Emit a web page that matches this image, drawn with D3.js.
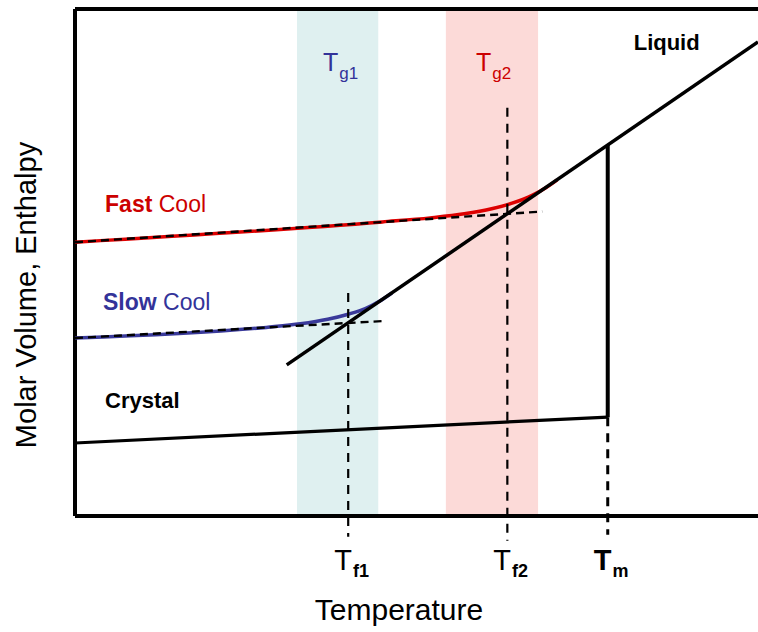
<!DOCTYPE html>
<html>
<head>
<meta charset="utf-8">
<script src="https://cdn.jsdelivr.net/npm/d3@7"></script>
<style>
  body { margin: 0; background: #fff; }
  svg { display: block; font-family: "Liberation Sans", Arial, sans-serif; }
</style>
</head>
<body>
<svg id="chart" width="758" height="632"></svg>
<script>
// Schematic volume/enthalpy vs temperature for glass formation
const tempDomain = [0, 100];
const volDomain = [0, 100];

// Glass-transition ranges (temperature bands)
const bandNames = ["Tg1", "Tg2"];
const bandStart = [32.5, 54.3];
const bandEnd = [44.4, 67.8];
const bandFill = ["#dff0f0", "#fcdad8"];

// Characteristic temperatures
const tickNames = ["f1", "f2", "m"];
const tickTemps = [40, 63.3, 78];
const tickTop = [44.0, 80.5, 19.5];
const tickBottom = [-4.1, -4.9, -3.7];

// Equilibrium liquid and crystal lines
const liquidT = [31, 100];
const liquidV = [29.8, 93.5];
const crystalT = [0, 78];
const crystalV = [14.4, 19.5];
const meltT = [78, 78];
const meltV = [19.5, 73.2];

// Fast cooling: glass line and measured curve
const fastGlassT = [0, 68.4];
const fastGlassV = [54.0, 60.05];
const fastCurveT = [0, 45, 52, 57, 61, 64, 67, 69, 70.6];
const fastCurveV = [54.0, 58.0, 58.8, 59.6, 60.6, 61.7, 63.3, 64.8, 66.3];

// Slow cooling: glass line and measured curve
const slowGlassT = [0, 45.4];
const slowGlassV = [35.1, 38.47];
const slowCurveT = [0, 28, 33, 37, 40, 42.5, 44.5, 46.4];
const slowCurveV = [35.1, 37.2, 37.9, 38.8, 39.8, 40.9, 42.3, 44.0];

const svg = d3.select("#chart");
const x = d3.scaleLinear().domain(tempDomain).range([75, 758]);
const y = d3.scaleLinear().domain(volDomain).range([516, 9]);

const pts = (ts, vs) => ts.map((t, i) => [t, vs[i]]);
const line = d3.line().x(d => x(d[0])).y(d => y(d[1]));
const smooth = d3.line().x(d => x(d[0])).y(d => y(d[1])).curve(d3.curveMonotoneX);

// Bands
svg.selectAll("rect.band").data(bandNames).join("rect")
  .attr("class", "band")
  .attr("x", (d, i) => x(bandStart[i]))
  .attr("width", (d, i) => x(bandEnd[i]) - x(bandStart[i]))
  .attr("y", y(volDomain[1]))
  .attr("height", y(volDomain[0]) - y(volDomain[1]))
  .attr("fill", (d, i) => bandFill[i]);

// Frame: left, top and bottom edges
const frame = svg.append("g").attr("stroke", "#000").attr("stroke-width", 4).attr("fill", "none");
frame.append("path").attr("d", line([[0, 0], [0, 100]]));
frame.append("path").attr("d", line([[0, 100], [100, 100]]));
frame.append("path").attr("d", line([[0, 0], [100, 0]]));

// Crystal line and melting step
svg.append("path").attr("d", line(pts(crystalT, crystalV)))
  .attr("stroke", "#000").attr("stroke-width", 3.2).attr("fill", "none");
svg.append("path").attr("d", line(pts(meltT, meltV)))
  .attr("stroke", "#000").attr("stroke-width", 4).attr("fill", "none");

// Cooling curves
svg.append("path").attr("d", smooth(pts(fastCurveT, fastCurveV)))
  .attr("stroke", "#dd0000").attr("stroke-width", 3.5).attr("fill", "none");
svg.append("path").attr("d", smooth(pts(slowCurveT, slowCurveV)))
  .attr("stroke", "#3a3a9a").attr("stroke-width", 3.5).attr("fill", "none");

// Liquid line
svg.append("path").attr("d", line(pts(liquidT, liquidV)))
  .attr("stroke", "#000").attr("stroke-width", 3.5).attr("fill", "none");

// Extrapolated glass lines (dashed)
[pts(fastGlassT, fastGlassV), pts(slowGlassT, slowGlassV)].forEach(p => {
  svg.append("path").attr("d", line(p))
    .attr("stroke", "#000").attr("stroke-width", 2.4).attr("stroke-dasharray", "8,5")
    .attr("fill", "none");
});

// Fictive / melting temperature markers
tickTemps.forEach((t, i) => {
  svg.append("path").attr("d", line([[t, tickTop[i]], [t, tickBottom[i]]]))
    .attr("stroke", "#000").attr("stroke-width", i === 2 ? 3 : 2.2)
    .attr("stroke-dasharray", "9,7").attr("fill", "none");
  const lab = svg.append("text")
    .attr("x", x(t) - 14).attr("y", 570)
    .attr("font-size", 29).attr("font-weight", i === 2 ? "bold" : "normal").attr("fill", "#000");
  lab.append("tspan").text("T");
  lab.append("tspan").attr("dy", 7).attr("dx", 1).attr("font-size", 18).attr("font-weight", "bold").text(tickNames[i]);
});

// Band labels
const bandColor = ["#333399", "#cc0000"];
const bandLabelT = [36.3, 58.7];
bandNames.forEach((n, i) => {
  const lab = svg.append("text").attr("x", x(bandLabelT[i])).attr("y", y(87.8))
    .attr("font-size", 25).attr("fill", bandColor[i]);
  lab.append("tspan").text("T");
  lab.append("tspan").attr("dy", 8).attr("dx", 1).attr("font-size", 17).text(n.slice(1));
});

// Curve labels
const fast = svg.append("text").attr("x", x(4.4)).attr("y", y(60.0))
  .attr("font-size", 23).attr("fill", "#cc0000");
fast.append("tspan").attr("font-weight", "bold").text("Fast");
fast.append("tspan").text(" Cool");

const slow = svg.append("text").attr("x", x(4.1)).attr("y", y(40.6))
  .attr("font-size", 23).attr("fill", "#333399");
slow.append("tspan").attr("font-weight", "bold").text("Slow");
slow.append("tspan").text(" Cool");

svg.append("text").attr("x", x(4.4)).attr("y", y(21.3))
  .attr("font-size", 22).attr("font-weight", "bold").attr("fill", "#000").text("Crystal");

svg.append("text").attr("x", x(81.8)).attr("y", y(91.9))
  .attr("font-size", 22).attr("font-weight", "bold").attr("fill", "#000").text("Liquid");

// Axis titles
svg.append("text").attr("x", 399).attr("y", 620).attr("text-anchor", "middle")
  .attr("font-size", 30).attr("fill", "#000").text("Temperature");
svg.append("text").attr("transform", "translate(36,295) rotate(-90)").attr("text-anchor", "middle")
  .attr("font-size", 29).attr("fill", "#000").text("Molar Volume, Enthalpy");
</script>
</body>
</html>
